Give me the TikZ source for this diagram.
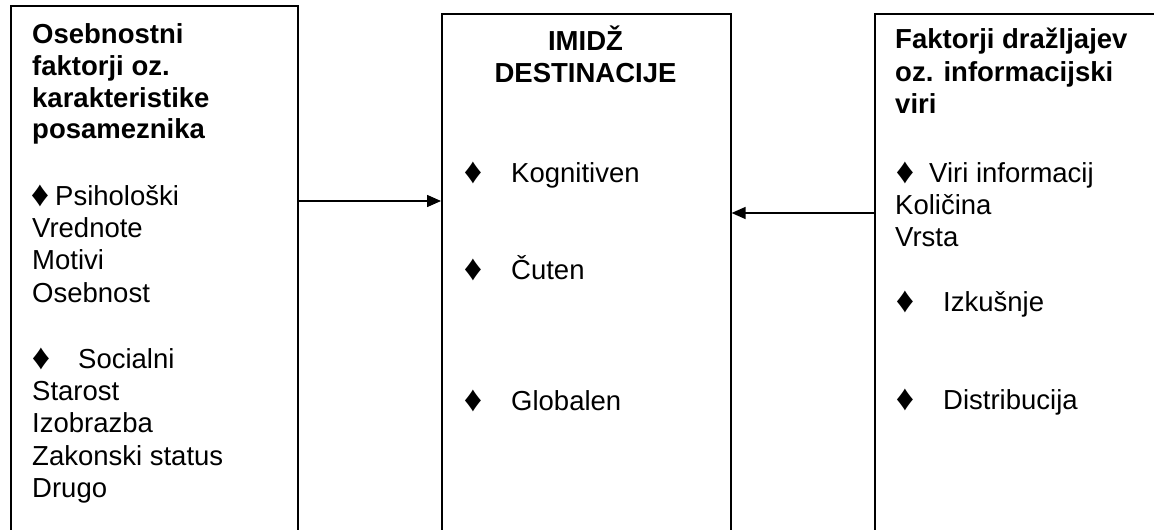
\documentclass[tikz,border=0pt]{standalone}
\usepackage{fontspec}
\setmainfont{Liberation Sans}
\usetikzlibrary{arrows.meta}
\tikzset{
  frame/.style={draw=black, line width=1.6pt, anchor=north west, inner sep=0pt},
  head/.style={anchor=base west, inner sep=0pt, font=\fontsize{27.5}{33}\selectfont\bfseries},
  headc/.style={anchor=base, inner sep=0pt, font=\fontsize{27.5}{33}\selectfont\bfseries},
  item/.style={anchor=base west, inner sep=0pt, font=\fontsize{27.5}{33}\selectfont},
  bul/.style={anchor=base, inner sep=0pt, font=\fontsize{36}{40}\selectfont},
  link/.style={line width=1.5pt, -{Triangle[length=14pt,width=12pt]}}
}
\begin{document}
\begin{tikzpicture}[x=1pt,y=-1pt]
\useasboundingbox (0,0) rectangle (1154,530);
\clip (0,0) rectangle (1154,530);

% three frames, running past the lower (and right) edge
\node[frame, minimum width=287pt, minimum height=560pt] (left) at (10,5) {};
\node[frame, minimum width=289pt, minimum height=560pt] (mid) at (441,13) {};
\node[frame, minimum width=330pt, minimum height=560pt] (right) at (874,13) {};

% left frame: personal factors
\node[head] (l1) at (32,43) {Osebnostni};
\node[head] (l2) at (32,75) {faktorji oz.};
\node[head] (l3) at (32,107) {karakteristike};
\node[head] (l4) at (32,138) {posameznika};
\node[bul]  (lb1) at (40,206) {♦};
\node[item] (l5) at (55,205) {Psihološki};
\node[item] (l6) at (32,237) {Vrednote};
\node[item] (l7) at (32,269) {Motivi};
\node[item] (l8) at (32,302) {Osebnost};
\node[bul]  (lb2) at (41,369) {♦};
\node[item] (l9) at (78,368) {Socialni};
\node[item] (l10) at (32,400) {Starost};
\node[item] (l11) at (32,432) {Izobrazba};
\node[item] (l12) at (32,465) {Zakonski status};
\node[item] (l13) at (32,497) {Drugo};

% middle frame: destination image
\node[headc] (m1) at (585.5,50) {IMIDŽ};
\node[headc] (m2) at (585.5,82) {DESTINACIJE};
\node[bul]  (mb1) at (473,183) {♦};
\node[item] (m3) at (511,182) {Kognitiven};
\node[bul]  (mb2) at (473,280) {♦};
\node[item] (m4) at (511,279) {Čuten};
\node[bul]  (mb3) at (473,411) {♦};
\node[item] (m5) at (511,410) {Globalen};

% right frame: stimulus factors
\node[head] (r1) at (895,48) {Faktorji dražljajev};
\node[head] (r2) at (895,81) {oz. informacijski};
\node[head] (r3) at (895,113) {viri};
\node[bul]  (rb1) at (905,183) {♦};
\node[item] (r4) at (929,182) {Viri informacij};
\node[item] (r5) at (895,214) {Količina};
\node[item] (r6) at (895,246) {Vrsta};
\node[bul]  (rb2) at (905,312) {♦};
\node[item] (r7) at (943,311) {Izkušnje};
\node[bul]  (rb3) at (905,410) {♦};
\node[item] (r8) at (943,409) {Distribucija};

% connectors into the middle frame
\coordinate (ya) at (0,201);
\coordinate (yb) at (0,213);
\draw[link] (left.east |- ya) -- (mid.west |- ya);
\draw[link] (right.west |- yb) -- (mid.east |- yb);
\end{tikzpicture}
\end{document}
